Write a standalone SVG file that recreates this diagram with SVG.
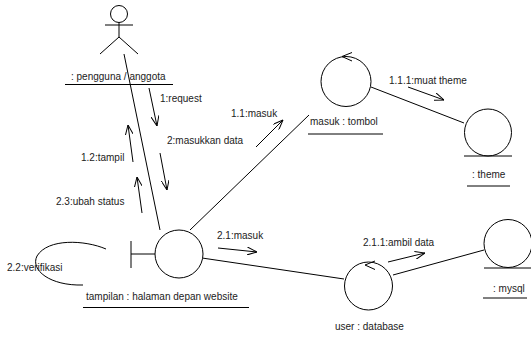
<svg xmlns="http://www.w3.org/2000/svg" width="531" height="339" viewBox="0 0 531 339">
<defs>
<marker id="open" viewBox="0 0 10 8" refX="10" refY="4" markerWidth="10" markerHeight="8" markerUnits="userSpaceOnUse" orient="auto">
<path d="M0,0 L10,4 L0,8" fill="none" stroke="#000" stroke-width="1"/>
</marker>
</defs>
<style>
.ln{stroke:#000;stroke-width:1;fill:none}
.msg{stroke:#000;stroke-width:1;fill:none;marker-end:url(#open)}
.sh{stroke:#000;stroke-width:1;fill:#fff}
text{font-family:"Liberation Sans",Arial,sans-serif;font-size:10px;fill:#222}
</style>
<rect width="531" height="339" fill="#fff"/>
<g id="connectors">
<line class="ln" x1="124" y1="54" x2="160" y2="230"/>
<line class="ln" x1="190" y1="230" x2="309" y2="115"/>
<line class="ln" x1="202" y1="258" x2="344" y2="279"/>
<line class="ln" x1="371" y1="87" x2="464" y2="123"/>
<line class="ln" x1="393" y1="275" x2="484" y2="250"/>
<path class="ln" d="M106,249 C85,240 48,238 37,256 C30,270 50,286 83,285"/>
<line class="msg" x1="149" y1="88" x2="157" y2="126"/>
<line class="msg" x1="160" y1="153" x2="167" y2="190"/>
<line class="msg" x1="133" y1="162" x2="128" y2="125"/>
<line class="msg" x1="142" y1="213" x2="137" y2="177"/>
<line class="msg" x1="256" y1="147" x2="283" y2="120"/>
<line class="msg" x1="218" y1="248" x2="257" y2="252"/>
<line class="msg" x1="408" y1="87" x2="444" y2="100"/>
<line class="msg" x1="388" y1="262" x2="425" y2="253"/>
<text x="160" y="102">1:request</text>
<text x="167" y="144">2:masukkan data</text>
<text x="81" y="161">1.2:tampil</text>
<text x="56" y="205">2.3:ubah status</text>
<text x="231" y="117">1.1:masuk</text>
<text x="217" y="239">2.1:masuk</text>
<text x="7" y="271">2.2:verifikasi</text>
<text x="389" y="84">1.1.1:muat theme</text>
<text x="363" y="246">2.1.1:ambil data</text>
</g>
<g id="actor">
<circle class="sh" cx="119" cy="14" r="8.5"/>
<line class="ln" x1="119" y1="22.5" x2="119" y2="37"/>
<line class="ln" x1="105" y1="25" x2="133" y2="25"/>
<line class="ln" x1="119" y1="37" x2="100" y2="54"/>
<line class="ln" x1="119" y1="37" x2="138" y2="54"/>
<text x="71" y="79.5">: pengguna / anggota</text>
<line class="ln" x1="65" y1="84.5" x2="173" y2="84.5"/>
</g>
<g id="tampilan">
<circle class="sh" cx="179" cy="254" r="24"/>
<line class="ln" x1="131" y1="241" x2="131" y2="268"/>
<line class="ln" x1="131" y1="254" x2="155" y2="254"/>
<text x="86" y="300">tampilan : halaman depan website</text>
<line class="ln" x1="83" y1="307.5" x2="249" y2="307.5"/>
</g>
<g id="tombol">
<circle class="sh" cx="346" cy="81.5" r="25"/>
<path class="ln" d="M352,52.5 L342,56.5 L352,61"/>
<text x="310" y="125">masuk : tombol</text>
<line class="ln" x1="308" y1="134" x2="383" y2="134"/>
</g>
<g id="theme">
<circle class="sh" cx="488" cy="132.5" r="23.5"/>
<line class="ln" x1="464" y1="156" x2="512" y2="156"/>
<text x="472" y="178">: theme</text>
<line class="ln" x1="467" y1="186" x2="510" y2="186"/>
</g>
<g id="database">
<circle class="sh" cx="368.5" cy="286" r="24"/>
<path class="ln" d="M375,261 L365,265 L375,269.5"/>
<text x="335" y="330">user : database</text>
</g>
<g id="mysql">
<circle class="sh" cx="508" cy="243.5" r="24"/>
<line class="ln" x1="484" y1="268" x2="531" y2="268"/>
<text x="493" y="292">: mysql</text>
<line class="ln" x1="483" y1="298" x2="527" y2="298"/>
</g>
</svg>
